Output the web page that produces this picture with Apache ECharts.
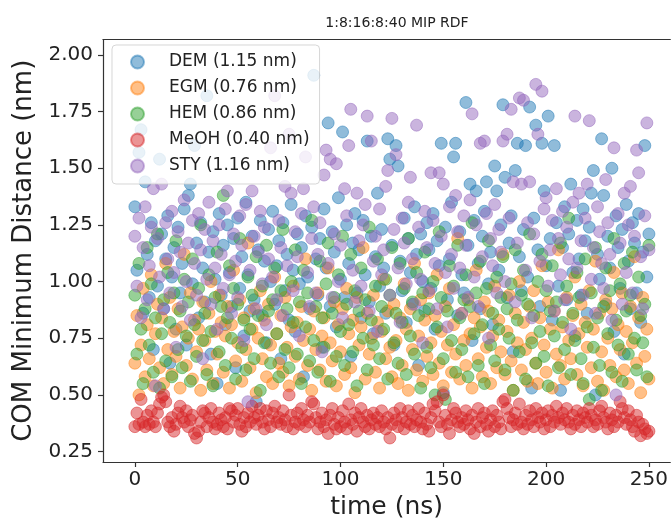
<!DOCTYPE html>
<html>
<head>
<meta charset="utf-8">
<script src="https://cdn.jsdelivr.net/npm/echarts@6/dist/echarts.min.js"></script>
<style>html,body{margin:0;padding:0;background:#fff}#c{width:671px;height:525px}</style>
</head>
<body>
<div id="c"></div>
<script>
const seriesNames = ['DEM (1.15 nm)', 'EGM (0.76 nm)', 'HEM (0.86 nm)', 'MeOH (0.40 nm)', 'STY (1.16 nm)'];
const xTicks = [0, 50, 100, 150, 200, 250];
const yTicks = [0.25, 0.50, 0.75, 1.00, 1.25, 1.50, 1.75, 2.00];
const timeStepNs = 1;

const DEM = [
1.33,1.05,1.57,1.67,0.86,1.44,1.12,0.93,1.26,0.70,
1.18,0.98,1.54,1.21,0.88,1.10,1.29,0.64,1.02,1.15,
0.79,1.24,0.95,1.08,1.32,0.72,1.38,1.43,0.99,1.60,
1.17,0.84,1.26,1.06,0.91,1.82,1.13,0.68,1.22,1.01,
0.55,1.30,0.94,1.16,0.81,1.25,1.04,0.89,1.19,0.62,
1.28,0.97,1.11,0.76,1.35,1.03,0.87,1.20,0.92,0.47,
1.14,1.27,0.85,1.09,0.73,1.23,1.00,1.31,0.90,1.07,
1.18,0.66,1.26,0.96,1.12,0.83,1.34,1.05,0.78,1.21,
0.99,1.15,0.58,1.29,1.02,0.88,1.24,1.91,1.10,0.94,
1.19,0.71,1.32,1.06,1.70,0.89,1.22,1.13,0.80,1.37,
1.01,1.66,0.93,1.25,1.08,0.67,1.17,1.30,0.95,1.14,
0.84,1.27,1.03,1.62,0.91,1.20,0.77,1.11,1.39,0.98,
1.23,1.06,0.86,1.63,1.54,1.16,0.72,1.60,1.51,1.09,
0.96,1.28,0.82,1.19,1.04,0.90,1.33,1.12,0.63,1.21,
1.00,0.87,1.26,1.14,0.97,1.30,0.79,1.18,1.07,1.61,
0.51,1.24,0.92,1.10,1.35,1.55,1.61,0.85,1.22,1.03,
0.95,1.79,1.16,1.43,0.74,1.27,1.40,1.08,0.88,1.20,
1.31,1.44,0.99,1.13,0.81,1.51,1.40,1.05,1.25,1.78,
1.46,0.93,1.17,1.29,0.69,1.49,1.61,1.11,0.96,1.23,
1.60,1.02,1.77,0.53,1.28,1.69,1.14,0.89,1.61,1.40,
1.07,1.73,1.19,0.83,1.60,1.26,0.98,0.52,1.15,1.33,
0.92,1.21,1.43,1.04,0.76,1.27,1.10,0.94,1.32,1.18,
0.86,1.24,1.39,1.49,0.50,1.12,1.01,1.63,1.38,0.90,
1.20,1.06,1.50,0.78,1.29,1.15,0.97,1.23,0.68,1.34,
1.09,0.88,1.26,1.17,0.95,1.30,0.82,1.13,1.60,1.02,
1.21];

const EGM = [
0.64,0.85,0.50,0.72,0.97,0.58,0.81,0.66,1.03,0.54,
0.77,0.90,0.62,0.84,0.55,1.08,0.70,0.93,0.59,0.78,
0.67,0.88,0.53,0.80,1.12,0.63,0.75,0.95,0.57,0.83,
0.69,0.79,0.52,0.91,0.74,0.61,0.86,1.00,0.55,0.78,
0.68,0.94,0.82,0.60,0.76,0.89,0.53,0.81,1.05,0.65,
0.73,0.92,0.56,0.84,0.70,1.17,0.62,0.79,0.88,0.51,
0.75,0.96,0.66,0.83,0.58,0.90,0.72,0.55,1.02,0.77,
0.64,0.85,0.60,0.93,0.71,0.54,0.80,0.98,0.67,0.82,
0.57,0.89,0.74,1.10,0.63,0.79,0.52,0.87,0.70,0.95,
0.61,0.76,0.84,0.56,1.06,0.73,0.65,0.91,0.54,0.81,
0.69,0.88,0.59,0.97,0.77,0.62,0.83,0.51,0.93,0.72,
0.80,1.15,0.57,0.86,0.68,0.75,0.94,0.60,0.82,0.53,
0.78,1.01,0.66,0.87,0.71,0.58,0.90,0.74,0.55,0.84,
0.63,0.99,0.79,0.52,0.88,0.70,1.08,0.61,0.76,0.92,
0.56,0.83,0.67,0.95,0.73,0.59,0.85,1.03,0.64,0.78,
0.54,0.89,0.72,0.97,0.60,0.81,0.68,1.19,0.57,0.86,
0.74,0.63,0.92,0.77,0.53,0.84,1.05,0.66,0.80,0.58,
0.91,0.71,0.87,0.55,0.76,0.98,0.62,0.83,0.69,1.12,
0.59,0.78,0.94,0.65,0.52,0.86,0.73,1.00,0.61,0.82,
0.70,0.56,0.89,0.75,0.96,0.64,0.55,0.84,1.07,0.72,
0.60,0.91,0.79,0.53,0.87,0.68,1.14,0.63,0.80,0.57,
0.93,0.74,0.66,0.85,1.02,0.59,0.77,0.90,0.54,0.82,
0.71,0.96,0.62,0.79,1.09,0.56,0.86,0.69,0.52,0.92,
0.75,0.63,0.88,1.04,0.58,0.81,0.70,0.95,0.61,0.78,
0.55,0.89,0.73,1.11,0.64,0.84,0.51,0.93,0.67,0.79,
0.57];

const HEM = [
0.94,0.68,1.08,0.79,0.55,0.88,1.15,0.72,0.99,0.60,
0.84,1.21,0.53,0.77,0.92,0.65,1.04,0.82,0.58,0.95,
1.18,0.70,0.87,0.62,1.01,0.76,0.91,0.56,1.10,0.81,
0.67,0.97,1.25,0.74,0.86,0.59,1.03,0.78,0.54,0.93,
1.13,0.69,0.89,1.38,0.63,0.84,1.07,0.75,0.97,0.57,
0.90,1.19,0.71,0.83,0.61,1.02,0.79,0.94,0.66,1.11,
0.85,0.52,0.98,0.73,1.16,0.87,0.64,0.92,1.06,0.77,
0.58,0.96,1.23,0.70,0.88,0.62,1.00,0.82,1.14,0.68,
0.91,0.55,1.05,0.80,0.95,0.65,1.27,0.74,0.89,0.60,
1.09,0.84,0.71,0.99,1.17,0.56,0.86,0.93,0.67,1.03,
0.78,1.20,0.63,0.90,0.81,1.12,0.69,0.96,0.54,0.87,
1.06,0.75,0.92,0.61,1.24,0.83,0.72,0.98,1.10,0.66,
0.89,0.79,1.01,0.57,0.94,1.15,0.73,0.86,0.64,1.08,
0.82,0.97,0.59,1.19,0.76,0.91,0.68,1.04,0.85,0.53,
0.95,1.13,0.71,0.88,0.62,1.00,0.50,0.80,1.22,0.93,
0.66,0.48,0.87,1.07,0.74,0.98,0.60,1.16,0.84,0.70,
0.92,1.03,0.58,0.89,1.26,0.77,0.95,0.63,1.09,0.81,
0.55,0.97,1.18,0.72,0.86,0.65,1.02,0.79,0.93,1.11,
0.61,0.88,0.75,0.99,0.52,1.14,0.83,0.69,0.94,1.05,
0.57,0.90,1.21,0.73,0.85,0.64,1.00,0.78,1.12,0.67,
0.96,0.54,0.87,1.07,0.76,0.91,0.62,1.17,0.82,0.70,
0.98,1.28,0.59,0.86,0.74,1.04,0.93,0.66,0.55,1.10,
0.80,0.48,0.95,0.71,1.15,0.84,0.63,0.52,0.89,1.06,
0.77,0.96,0.60,1.19,0.83,0.72,0.99,0.56,1.08,0.87,
0.68,0.94,1.13,0.75,0.61,1.02,0.85,0.73,0.90,0.58,
1.16];

const MeOH = [
0.36,0.42,0.37,0.48,0.38,0.36,0.41,0.37,0.43,0.38,
0.36,0.42,0.46,0.49,0.50,0.47,0.38,0.36,0.40,0.34,
0.37,0.42,0.45,0.40,0.38,0.43,0.36,0.39,0.41,0.33,
0.31,0.34,0.38,0.43,0.42,0.36,0.40,0.44,0.38,0.35,
0.37,0.42,0.39,0.36,0.40,0.35,0.44,0.43,0.38,0.41,
0.44,0.37,0.34,0.40,0.36,0.42,0.38,0.45,0.40,0.37,
0.41,0.44,0.38,0.35,0.43,0.39,0.36,0.42,0.45,0.38,
0.40,0.37,0.43,0.39,0.36,0.50,0.41,0.35,0.38,0.42,
0.37,0.44,0.39,0.36,0.41,0.38,0.47,0.46,0.40,0.35,
0.38,0.42,0.36,0.39,0.33,0.41,0.44,0.37,0.35,0.40,
0.36,0.43,0.38,0.35,0.46,0.39,0.37,0.42,0.34,0.40,
0.44,0.38,0.36,0.41,0.35,0.39,0.42,0.37,0.40,0.36,
0.43,0.38,0.35,0.40,0.31,0.37,0.42,0.39,0.36,0.44,
0.40,0.35,0.38,0.43,0.37,0.41,0.36,0.39,0.44,0.38,
0.35,0.42,0.37,0.34,0.40,0.46,0.43,0.47,0.38,0.36,
0.50,0.41,0.37,0.33,0.39,0.44,0.42,0.38,0.36,0.40,
0.37,0.43,0.39,0.35,0.41,0.33,0.38,0.44,0.36,0.40,
0.42,0.37,0.34,0.39,0.43,0.36,0.41,0.38,0.35,0.47,
0.48,0.44,0.40,0.36,0.39,0.42,0.37,0.46,0.38,0.35,
0.41,0.37,0.43,0.39,0.36,0.44,0.40,0.38,0.42,0.35,
0.39,0.43,0.36,0.41,0.38,0.45,0.40,0.37,0.42,0.39,
0.44,0.38,0.35,0.41,0.37,0.43,0.39,0.36,0.42,0.40,
0.38,0.44,0.41,0.36,0.39,0.37,0.43,0.45,0.40,0.38,
0.35,0.42,0.39,0.36,0.41,0.38,0.47,0.44,0.40,0.37,
0.43,0.39,0.36,0.34,0.41,0.38,0.32,0.37,0.35,0.33,
0.34];

const STY = [
1.20,0.98,1.28,0.84,1.15,1.33,0.92,1.07,1.24,1.41,
0.54,1.19,1.02,1.43,0.88,1.26,1.10,0.95,1.31,1.04,
0.71,1.22,1.13,0.89,1.36,1.00,1.17,0.83,1.27,1.08,
0.94,1.30,1.14,0.66,1.23,1.01,1.35,0.90,1.18,1.06,
0.79,1.25,1.12,0.97,1.32,1.40,1.03,0.86,1.21,1.09,
0.93,1.29,1.16,0.74,1.34,0.47,1.05,1.40,1.20,0.88,
1.13,1.31,0.99,1.24,0.81,1.10,1.59,1.02,1.82,0.92,
1.27,1.15,0.85,1.42,1.07,1.65,1.39,0.96,1.22,1.11,
0.76,1.30,1.41,1.55,1.04,0.89,1.19,1.33,0.95,1.12,
1.26,0.69,1.47,1.58,1.08,1.54,0.93,1.21,1.52,1.00,
1.16,0.84,1.41,1.29,1.60,1.76,1.05,0.91,1.39,1.18,
0.98,1.25,1.34,1.73,0.87,1.62,1.09,1.20,0.78,1.32,
1.03,1.14,1.42,1.49,0.94,1.72,1.23,1.56,1.06,0.82,
1.28,1.17,0.99,1.35,1.46,1.10,0.90,1.69,1.24,1.01,
0.73,1.31,1.15,0.96,1.48,1.27,1.08,0.88,1.48,1.20,
1.43,1.04,0.80,1.33,1.12,0.97,1.38,1.22,1.06,0.86,
1.29,1.16,0.93,1.36,1.74,1.02,1.25,0.89,1.61,1.11,
1.62,1.30,0.75,1.19,1.07,1.34,0.95,1.23,1.13,1.62,
1.00,1.65,1.28,1.76,1.44,0.91,1.17,1.81,1.43,1.80,
1.05,1.26,1.44,0.84,1.21,1.87,1.65,1.09,1.84,1.32,
1.37,0.98,1.14,1.27,0.87,1.41,1.19,1.03,1.31,0.92,
1.24,1.10,0.79,1.35,1.73,1.06,1.39,1.18,0.94,1.28,
1.43,1.71,1.01,1.15,0.86,1.33,1.22,1.08,0.97,1.45,
1.26,1.12,0.83,1.59,0.50,1.30,1.17,0.90,1.39,1.04,
1.25,1.42,0.95,1.20,1.58,1.48,1.11,0.88,1.29,1.70,
1.14];

const seriesValues = [DEM, EGM, HEM, MeOH, STY];
const colors = ['31,119,180', '255,127,14', '44,160,44', '214,39,40', '148,103,189'];

const FONT = 'DejaVu Sans';
const chart = echarts.init(document.getElementById('c'), null, {renderer: 'canvas'});

const series = seriesNames.map((name, k) => ({
  name: name,
  type: 'scatter',
  symbol: 'circle',
  symbolSize: 12,
  animation: false,
  itemStyle: {
    color: 'rgba(' + colors[k] + ',0.62)',
    borderColor: 'rgba(' + colors[k] + ',0.62)',
    borderWidth: 1
  },
  emphasis: {disabled: true},
  data: seriesValues[k].map((v, i) => [i * timeStepNs, v])
}));

chart.setOption({
  backgroundColor: '#fff',
  animation: false,
  textStyle: {fontFamily: FONT},
  title: {
    text: '1:8:16:8:40 MIP RDF',
    left: 392,
    textAlign: 'center',
    top: 11,
    textStyle: {fontFamily: FONT, fontSize: 14, fontWeight: 'normal', color: '#222'}
  },
  legend: {
    orient: 'vertical',
    left: 112,
    top: 45,
    itemWidth: 13,
    itemHeight: 13,
    itemGap: 6,
    icon: 'circle',
    padding: [7, 10, 8, 18],
    backgroundColor: 'rgba(255,255,255,0.8)',
    borderColor: 'rgba(204,204,204,0.8)',
    borderWidth: 1,
    borderRadius: 4,
    textStyle: {fontFamily: FONT, fontSize: 17, color: '#222', lineHeight: 20, padding: [0, 0, 0, 20]},
    data: seriesNames
  },
  grid: {left: 103, right: 0, top: 39.5, bottom: 63, containLabel: false},
  xAxis: [{
    type: 'value',
    min: -15.5,
    max: 260.4,
    name: 'time (ns)',
    nameLocation: 'middle',
    nameGap: 31,
    nameTextStyle: {fontFamily: FONT, fontSize: 25, color: '#222'},
    splitLine: {show: false},
    axisLine: {show: true, onZero: false, lineStyle: {color: '#333', width: 1.2}},
    axisTick: {show: true, length: 5, lineStyle: {color: '#333', width: 1.2}, customValues: xTicks},
    axisLabel: {fontFamily: FONT, fontSize: 20, color: '#222', margin: 8, customValues: xTicks, formatter: v => String(v)}
  }, {
    type: 'value',
    position: 'top',
    min: -15.5,
    max: 260.4,
    splitLine: {show: false},
    axisLine: {show: true, onZero: false, lineStyle: {color: '#333', width: 1.2}},
    axisTick: {show: false},
    axisLabel: {show: false}
  }],
  yAxis: {
    type: 'value',
    min: 0.204,
    max: 2.068,
    name: 'COM Minimum Distance (nm)',
    nameLocation: 'middle',
    nameGap: 64,
    nameTextStyle: {fontFamily: FONT, fontSize: 26, color: '#222'},
    splitLine: {show: false},
    axisLine: {show: true, onZero: false, lineStyle: {color: '#333', width: 1.2}},
    axisTick: {show: true, length: 5, lineStyle: {color: '#333', width: 1.2}, customValues: yTicks},
    axisLabel: {fontFamily: FONT, fontSize: 20, color: '#222', margin: 10, customValues: yTicks, formatter: v => v.toFixed(2)}
  },
  series: series
});
</script>
</body>
</html>
